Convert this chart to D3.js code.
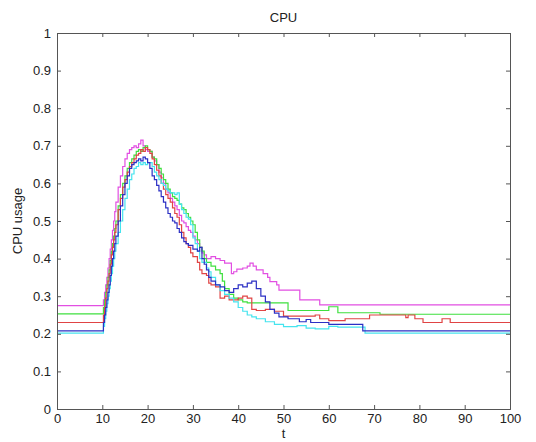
<!DOCTYPE html>
<html>
<head>
<meta charset="utf-8">
<script src="https://cdn.jsdelivr.net/npm/d3@7"></script>
<style>
  body { margin: 0; background: #fff; }
  svg text { font-family: "Liberation Sans", Arial, sans-serif; fill: #222; }
</style>
</head>
<body>
<svg id="chart" width="536" height="442"></svg>
<script>
// tick values
const xTicks = [0, 10, 20, 30, 40, 50, 60, 70, 80, 90, 100]
const yTicks = [0, 0.1, 0.2, 0.3, 0.4, 0.5, 0.6, 0.7, 0.8, 0.9, 1]

// each run: [t, usage] step points (value holds until next t)
const magentaRun = [[0,.275],[10,.275],[10.25,.29],[10.5,.31],[10.75,.33],[11,.35],[11.25,.375],[11.5,.40],[11.75,.425],[12,.45],[12.25,.475],[12.5,.50],[12.75,.525],[13,.55],[13.5,.59],[14,.62],[14.5,.645],[15,.665],[15.5,.68],[16,.69],[16.5,.695],[17,.70],[17.5,.695],[18,.705],[18.5,.715],[19,.70],[19.5,.69],[20,.685],[21,.67],[21.5,.66],[22,.65],[22.5,.63],[23,.615],[23.5,.60],[24,.585],[24.5,.575],[25,.56],[25.5,.55],[26,.54],[26.5,.53],[27,.515],[27.5,.50],[28,.495],[28.5,.485],[29,.475],[29.5,.47],[30,.46],[30.5,.45],[31,.44],[31.5,.43],[32,.415],[32.5,.41],[33,.40],[34,.405],[35,.40],[36,.395],[37,.388],[38.5,.36],[39,.365],[39.7,.372],[41,.375],[42,.38],[42.6,.388],[43.3,.38],[44,.37],[45.5,.36],[46.5,.35],[47,.339],[48.5,.33],[49,.316],[53.6,.29],[58,.277],[100,.277]]
const greenRun = [[0,.253],[10,.253],[10.25,.27],[10.5,.29],[10.75,.31],[11,.33],[11.25,.35],[11.5,.37],[11.75,.395],[12,.42],[12.25,.44],[12.5,.46],[12.75,.48],[13,.50],[13.5,.54],[14,.57],[14.5,.60],[15,.62],[15.5,.64],[16,.655],[16.5,.665],[17,.675],[17.5,.685],[18,.69],[18.5,.685],[19,.695],[19.5,.70],[20,.69],[20.5,.685],[21,.67],[21.5,.665],[22,.65],[22.5,.64],[23,.625],[23.5,.61],[24,.60],[24.5,.585],[25,.575],[25.5,.565],[26,.56],[26.5,.555],[27,.545],[27.5,.535],[28,.53],[28.5,.52],[29,.51],[29.5,.50],[30,.49],[30.5,.47],[31,.45],[31.5,.43],[32,.42],[32.5,.40],[33,.39],[34,.38],[35,.37],[36,.36],[36.5,.34],[37,.32],[38,.305],[39,.295],[40,.29],[41,.285],[42,.282],[51,.262],[60,.272],[62,.256],[71.3,.252],[100,.252]]
const redRun = [[0,.23],[10,.23],[10.25,.25],[10.5,.27],[10.75,.295],[11,.32],[11.25,.34],[11.5,.36],[11.75,.385],[12,.41],[12.25,.43],[12.5,.45],[12.75,.47],[13,.49],[13.5,.53],[14,.56],[14.5,.59],[15,.61],[15.5,.63],[16,.645],[16.5,.655],[17,.665],[17.5,.675],[18,.68],[18.5,.69],[19,.685],[19.5,.695],[20,.69],[20.5,.68],[21,.665],[21.5,.65],[22,.635],[22.5,.62],[23,.60],[23.5,.585],[24,.57],[24.5,.56],[25,.55],[25.5,.535],[26,.52],[26.5,.51],[27,.49],[27.5,.47],[28,.455],[28.5,.44],[29,.43],[29.5,.415],[30,.405],[31,.39],[31.5,.37],[32,.36],[33,.355],[33.5,.335],[34,.33],[35,.325],[36,.295],[37,.30],[38,.29],[40,.295],[41,.30],[42,.295],[43,.265],[44,.262],[46,.265],[48,.26],[50,.247],[57,.25],[58,.24],[60,.235],[63.6,.24],[69,.25],[77,.243],[77.5,.25],[79,.24],[80.8,.23],[85,.24],[86.8,.23],[100,.23]]
const blueRun = [[0,.208],[10,.208],[10.25,.23],[10.5,.25],[10.75,.27],[11,.29],[11.25,.31],[11.5,.33],[11.75,.355],[12,.38],[12.25,.40],[12.5,.42],[12.75,.44],[13,.46],[13.5,.50],[14,.54],[14.5,.57],[15,.60],[15.5,.62],[16,.64],[16.5,.65],[17,.655],[17.5,.66],[18,.665],[18.5,.66],[19,.67],[19.5,.665],[20,.655],[20.5,.64],[21,.62],[21.5,.61],[22,.595],[22.5,.58],[23,.565],[23.5,.55],[24,.535],[24.5,.52],[25,.51],[25.5,.50],[26,.495],[26.5,.48],[27,.47],[27.5,.455],[28,.445],[28.5,.44],[29,.435],[30,.425],[31,.42],[31.5,.43],[32,.40],[32.5,.385],[33,.37],[33.5,.35],[34,.34],[35,.33],[36,.325],[37,.315],[38,.31],[39,.32],[40,.33],[41,.325],[42,.335],[43,.34],[44,.32],[45,.30],[46,.285],[47,.265],[48,.255],[49,.245],[51,.24],[53.5,.232],[55,.238],[56,.23],[60,.225],[67.5,.208],[100,.208]]
const cyanRun = [[0,.202],[10,.202],[10.25,.22],[10.5,.24],[10.75,.26],[11,.28],[11.25,.30],[11.5,.32],[11.75,.34],[12,.36],[12.25,.38],[12.5,.40],[12.75,.42],[13,.44],[13.5,.47],[14,.50],[14.5,.53],[15,.56],[15.5,.585],[16,.61],[16.5,.625],[17,.64],[17.5,.645],[18,.655],[18.5,.65],[19,.655],[19.5,.65],[20,.655],[21,.645],[21.5,.63],[22,.62],[22.5,.61],[23,.60],[23.5,.595],[24,.585],[24.5,.58],[25,.575],[26,.57],[26.5,.575],[27,.545],[27.5,.53],[28,.52],[28.5,.51],[29,.505],[29.5,.49],[30,.455],[30.5,.44],[31,.42],[31.5,.40],[32,.39],[33,.375],[33.5,.365],[34,.35],[35,.33],[36,.315],[37,.305],[38,.295],[39,.285],[40,.27],[41,.26],[42,.25],[43,.245],[44,.24],[46,.232],[48,.225],[50,.219],[53,.222],[55,.215],[57,.213],[60,.22],[62,.218],[68,.202],[100,.202]]

const runs = [
  { data: magentaRun, color: '#e24fe2' },
  { data: greenRun, color: '#3fe03f' },
  { data: redRun, color: '#e04444' },
  { data: cyanRun, color: '#45e4ee' },
  { data: blueRun, color: '#2b2fc4' }
]

const svg = d3.select('#chart')
const plotLeft = 57, plotRight = 510, plotTop = 33, plotBottom = 409

const xScale = d3.scaleLinear().domain([0, 100]).range([plotLeft, plotRight])
const yScale = d3.scaleLinear().domain([0, 1]).range([plotBottom, plotTop])

// lines
const line = d3.line()
  .x(d => xScale(d[0]))
  .y(d => yScale(d[1]))
  .curve(d3.curveStepAfter)

svg.selectAll('.run')
  .data(runs)
  .join('path')
  .attr('class', 'run')
  .attr('d', d => line(d.data))
  .attr('fill', 'none')
  .attr('stroke', d => d.color)
  .attr('stroke-width', 1.2)

// axes, matlab style ticks pointing inward
const axisColor = '#555'
const xAxis = d3.axisBottom(xScale).tickValues(xTicks).tickSize(-4).tickPadding(5).tickFormat(d3.format('d'))
const xTop = d3.axisTop(xScale).tickValues(xTicks).tickSize(-4).tickFormat('')
const yAxis = d3.axisLeft(yScale).tickValues(yTicks).tickSize(-4).tickPadding(6).tickFormat(d => d)
const yRight = d3.axisRight(yScale).tickValues(yTicks).tickSize(-4).tickFormat('')

const gx = svg.append('g').attr('transform', `translate(0,${plotBottom})`).call(xAxis)
const gxt = svg.append('g').attr('transform', `translate(0,${plotTop})`).call(xTop)
const gy = svg.append('g').attr('transform', `translate(${plotLeft},0)`).call(yAxis)
const gyr = svg.append('g').attr('transform', `translate(${plotRight},0)`).call(yRight)

for (const g of [gx, gxt, gy, gyr]) {
  g.select('.domain').attr('stroke', axisColor)
  g.selectAll('.tick line').attr('stroke', axisColor)
  g.selectAll('.tick text').attr('font-size', 13).attr('fill', '#222')
    .style('font-family', '"Liberation Sans", Arial, sans-serif')
}

// titles
svg.append('text')
  .attr('x', (plotLeft + plotRight) / 2).attr('y', 22)
  .attr('text-anchor', 'middle').attr('font-size', 13)
  .text('CPU')

svg.append('text')
  .attr('x', (plotLeft + plotRight) / 2).attr('y', 438)
  .attr('text-anchor', 'middle').attr('font-size', 13)
  .text('t')

svg.append('text')
  .attr('transform', `translate(22,${(plotTop + plotBottom) / 2}) rotate(-90)`)
  .attr('text-anchor', 'middle').attr('font-size', 13)
  .text('CPU usage')
</script>
</body>
</html>
